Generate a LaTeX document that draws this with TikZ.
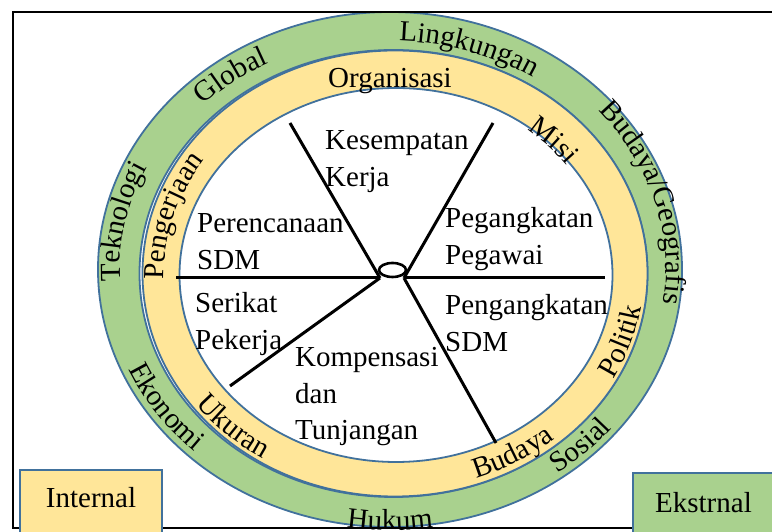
\documentclass[tikz,border=0pt]{standalone}
\usepackage{fontspec}
\setmainfont{Liberation Serif}
\usetikzlibrary{decorations.text}
\definecolor{ringgreen}{HTML}{A9D18E}
\definecolor{ringyellow}{HTML}{FFE699}
\definecolor{ringblue}{HTML}{41719C}
\newcommand\lblfont{\fontsize{29}{36.5}\selectfont}
% #1 cx, #2 cy, #3 rx, #4 ry, #5 start angle, #6 end angle, #7 text
\newcommand\ringlabel[7]{%
  \path[shift={(#1,#2)}, decorate,
    decoration={text along path, text align=center, text={|\lblfont|#7}}]
    (#5:#3 and #4) arc[start angle=#5, end angle=#6, x radius=#3, y radius=#4];}
\begin{document}
\begin{tikzpicture}[x=1pt,y=1pt,
  ringline/.style={draw=ringblue, line width=1.8pt},
  spoke/.style={draw=black, line width=3pt},
  lbl/.style={font=\lblfont, inner sep=0pt, align=left, anchor=base west},
  boxtext/.style={font=\lblfont, inner sep=0pt, anchor=base},
  frameline/.style={draw=black, line width=1.6pt}
]
\useasboundingbox (0,0) rectangle (772,532);
\clip (0,0) rectangle (772,532);

% rings
\path[ringline, fill=ringgreen, even odd rule]
  (390,262.5) ellipse [x radius=292, y radius=257.5]
  (393.5,258.5) ellipse [x radius=254, y radius=223.5];
\path[ringline, fill=ringyellow, even odd rule]
  (395,258.5) ellipse [x radius=252.5, y radius=223]
  (396,257) ellipse [x radius=216.5, y radius=187];

% frame
\draw[frameline] (790,520) -- (13,520) -- (13,4) -- (790,4);

% spokes
\coordinate (hubL) at (380,254);
\coordinate (hubR) at (404,254);
\coordinate (hub) at (392.5,262);
\coordinate (s1) at (290,409);
\coordinate (s2) at (493,409);
\coordinate (s3) at (176,254);
\coordinate (s4) at (605,254);
\coordinate (s5) at (230,146);
\coordinate (s6) at (496,89);
\draw[spoke] (s1) -- (hubL);
\draw[spoke] (s3) -- (hubL);
\draw[spoke] (s5) -- (hubL);
\draw[spoke] (s2) -- (hubR);
\draw[spoke] (s4) -- (hubR);
\draw[spoke] (s6) -- (hubR);
\draw[line width=2.6pt] (hub) ellipse [x radius=13.5, y radius=7];

% inner texts (anchor = baseline of the last line)
\node[lbl] (kes) at (325,345.5) {Kesempatan\\Kerja};
\node[lbl] (per) at (197,262.5) {Perencanaan\\SDM};
\node[lbl] (peg) at (445,267.5) {Pegangkatan\\Pegawai};
\node[lbl] (ser) at (195,182.5) {Serikat\\Pekerja};
\node[lbl] (pen) at (445,180.5) {Pengangkatan\\SDM};
\node[lbl] (kom) at (295,92) {Kompensasi\\dan\\Tunjangan};

% inner ring labels
\node[boxtext] (org) at (390,444) {Organisasi};
\ringlabel{396}{257}{213}{184}{78}{8}{Misi}
\ringlabel{396}{257}{232}{203}{199}{129}{Pengerjaan}
\ringlabel{393.5}{258.5}{250.5}{220.5}{307}{377}{Politik}
\ringlabel{393.5}{258.5}{247.5}{217.5}{266}{336}{Budaya}
\ringlabel{393.5}{258.5}{247.5}{217.5}{191.5}{261.5}{Ukuran}

% outer ring labels
\ringlabel{390}{262.5}{266}{231.5}{162}{92}{Global}
\ringlabel{390}{262.5}{263}{228.5}{107}{37}{Lingkungan}
\ringlabel{390}{262.5}{276}{241.5}{56}{-24}{Budaya/Geografis}
\ringlabel{390}{262.5}{270}{235.5}{204}{134}{Teknologi}
\ringlabel{390}{262.5}{285}{250.5}{179}{249}{Ekonomi}
\ringlabel{390}{262.5}{295}{260.5}{235}{305}{Hukum}
\ringlabel{390}{262.5}{286}{251.5}{279.5}{349.5}{Sosial}

% legend boxes
\draw[ringline, fill=ringyellow] (20,62) rectangle (162,-10);
\node[boxtext] (internal) at (91,24) {Internal};
\draw[ringline, fill=ringgreen] (633,59) rectangle (790,-10);
\node[boxtext] (ekstrnal) at (703.5,19) {Ekstrnal};
\end{tikzpicture}
\end{document}
